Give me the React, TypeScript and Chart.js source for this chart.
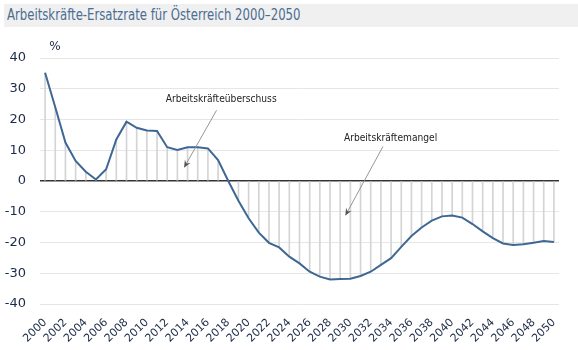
import React, { useEffect, useRef } from "react";
import { Chart, registerables } from "chart.js";

Chart.register(...registerables);

const years: string[] = Array.from({ length: 51 }, (_, i) => String(2000 + i));

const values: number[] = [
  35.2, 24.0, 12.5, 6.5, 3.0, 0.5, 3.8, 13.5, 19.3, 17.3,
  16.4, 16.3, 11.0, 10.1, 11.0, 11.0, 10.6, 6.8, 0.0, -6.4,
  -12.1, -16.8, -20.1, -21.6, -24.6, -26.8, -29.5, -31.1, -32.0, -31.9,
  -31.8, -30.9, -29.5, -27.3, -25.1, -21.4, -17.9, -15.1, -12.9, -11.5,
  -11.2, -11.9, -14.0, -16.4, -18.6, -20.3, -20.8, -20.6, -20.1, -19.5,
  -19.8,
];

const yMin = -40;
const yMax = 40;
const yStep = 10;

const titleText = "Arbeitskräfte-Ersatzrate für Österreich 2000–2050";
const unitLabel = "%";

const noteTexts: string[] = ["Arbeitskräfteüberschuss", "Arbeitskräftemangel"];
// positions in (category index, value)
const notePos: number[][] = [
  [17.3, 26.5],
  [33.95, 14.1],
];
const arrowFrom: number[][] = [
  [16.85, 23.0],
  [33.2, 11.2],
];
const arrowTo: number[][] = [
  [13.65, 4.3],
  [29.5, -11.3],
];

const FONT = "'DejaVu Sans', sans-serif";
const TEXT_COLOR = "#1c2b47";
const LINE_COLOR = "#3f6793";

const annotationPlugin = {
  id: "notes",
  afterDatasetsDraw(chart: any) {
    const { ctx, chartArea } = chart;
    const xs = chart.scales.x;
    const ys = chart.scales.y;
    ctx.save();
    // unit label
    ctx.fillStyle = TEXT_COLOR;
    ctx.font = `12px ${FONT}`;
    ctx.textAlign = "center";
    ctx.textBaseline = "middle";
    ctx.fillText(unitLabel, chartArea.left + 15, chartArea.top - 11);
    // notes (condensed)
    ctx.fillStyle = "#222222";
    ctx.font = `11px ${FONT}`;
    noteTexts.forEach((t, i) => {
      const px = xs.getPixelForValue(notePos[i][0]);
      const py = ys.getPixelForValue(notePos[i][1]);
      ctx.save();
      ctx.translate(px, py);
      ctx.scale(0.83, 1);
      ctx.fillText(t, 0, 0);
      ctx.restore();
    });
    // arrows
    ctx.strokeStyle = "#8a8a8a";
    ctx.fillStyle = "#555555";
    ctx.lineWidth = 0.9;
    arrowFrom.forEach((f, i) => {
      const x1 = xs.getPixelForValue(f[0]);
      const y1 = ys.getPixelForValue(f[1]);
      const x2 = xs.getPixelForValue(arrowTo[i][0]);
      const y2 = ys.getPixelForValue(arrowTo[i][1]);
      const ang = Math.atan2(y2 - y1, x2 - x1);
      const len = 8;
      ctx.beginPath();
      ctx.moveTo(x1, y1);
      ctx.lineTo(x2 - Math.cos(ang) * 4, y2 - Math.sin(ang) * 4);
      ctx.stroke();
      ctx.beginPath();
      ctx.moveTo(x2, y2);
      ctx.lineTo(x2 - len * Math.cos(ang - 0.4), y2 - len * Math.sin(ang - 0.4));
      ctx.lineTo(x2 - len * 0.6 * Math.cos(ang), y2 - len * 0.6 * Math.sin(ang));
      ctx.lineTo(x2 - len * Math.cos(ang + 0.4), y2 - len * Math.sin(ang + 0.4));
      ctx.closePath();
      ctx.fill();
    });
    ctx.restore();
  },
};

export default function App() {
  const ref = useRef<HTMLCanvasElement | null>(null);

  useEffect(() => {
    document.body.style.margin = "0";
    const canvas = ref.current;
    if (!canvas) return;
    const chart = new Chart(canvas, {
      type: "bar",
      data: {
        labels: years,
        datasets: [
          {
            type: "line",
            data: values,
            borderColor: LINE_COLOR,
            borderWidth: 2,
            pointRadius: 0,
            tension: 0,
            fill: false,
            order: 0,
          } as any,
          {
            type: "bar",
            data: values,
            backgroundColor: "#d4d4d4",
            barThickness: 1,
            order: 1,
          } as any,
        ],
      },
      options: {
        responsive: false,
        animation: false,
        devicePixelRatio: 1,
        layout: { padding: { top: 28, right: 19, left: 0, bottom: 0 } },
        plugins: {
          legend: { display: false },
          tooltip: { enabled: false },
          title: { display: false },
        },
        scales: {
          x: {
            type: "category",
            offset: true,
            grid: { display: false, drawTicks: false },
            border: { display: false },
            ticks: {
              autoSkip: false,
              minRotation: 45,
              maxRotation: 45,
              padding: 12,
              color: TEXT_COLOR,
              font: { family: FONT, size: 11 },
              callback: (_v: any, i: number) => (i % 2 === 0 ? years[i] : ""),
            },
            afterFit: (s: any) => {
              s.height = 46;
            },
          },
          y: {
            min: yMin,
            max: yMax,
            grid: {
              drawTicks: false,
              color: (c: any) => (c.tick && c.tick.value === 0 ? "#333333" : "#e6e6e6"),
              lineWidth: (c: any) => (c.tick && c.tick.value === 0 ? 1.5 : 1),
            },
            border: { display: false },
            ticks: {
              stepSize: yStep,
              padding: 14,
              color: TEXT_COLOR,
              font: { family: FONT, size: 13 },
            },
            afterFit: (s: any) => {
              s.width = 40;
            },
          },
        },
      } as any,
      plugins: [annotationPlugin],
    });
    return () => chart.destroy();
  }, []);

  return (
    <div style={{ position: "relative", width: 578, height: 350, background: "#ffffff" }}>
      <div
        style={{
          position: "absolute",
          left: 4,
          top: 4,
          width: 574,
          height: 23,
          background: "#f0f0f0",
        }}
      />
      <div
        style={{
          position: "absolute",
          left: 7,
          top: 4,
          height: 23,
          color: "#4a6d92",
          fontFamily: FONT,
          fontSize: 15,
          lineHeight: "23px",
          whiteSpace: "nowrap",
          transform: "scaleX(0.78)",
          transformOrigin: "left center",
        }}
      >
        {titleText}
      </div>
      <canvas
        ref={ref}
        width={578}
        height={320}
        style={{ position: "absolute", left: 0, top: 30, width: 578, height: 320 }}
      />
    </div>
  );
}
